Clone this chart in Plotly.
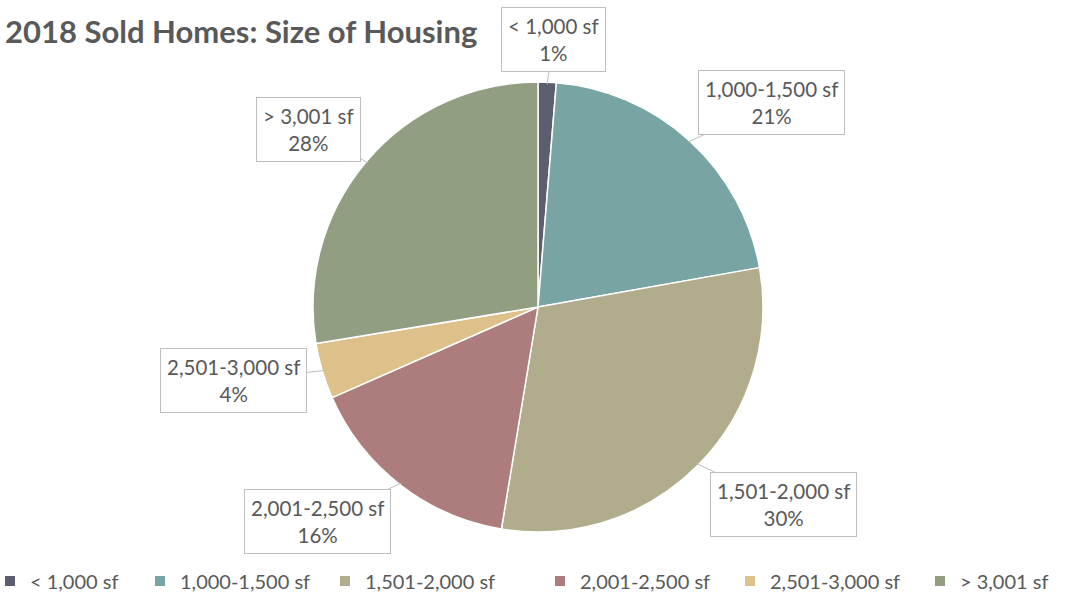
import math
import plotly.graph_objects as go

categories = ["< 1,000 sf", "1,000-1,500 sf", "1,501-2,000 sf", "2,001-2,500 sf", "2,501-3,000 sf", "> 3,001 sf"]
shares = [1.3, 20.9, 30.4, 15.8, 4.0, 27.6]
colors = ["#5b5e6e", "#78a5a3", "#b0ac8c", "#ad7d7d", "#dec08b", "#919e82"]
title_text = "2018 Sold Homes: Size of Housing"

# style: label distance from center (in radii) and small angle tweak (deg)
label_dist = [1.19, 1.38, 1.40, 1.37, 1.39, 1.29]
label_dtheta = [1.0, 6.5, -5.8, 8.0, 3.0, -2.7]
# style: legend text start positions (px)
legend_text_x = [30, 180, 365, 580, 770, 960]

W, H = 1072, 592
cx, cy, R = 538, 307, 225
FONT = "Lato"
TXT = "#595959"

fig = go.Figure()
fig.add_trace(go.Pie(
    labels=categories, values=shares, sort=False, direction="clockwise", rotation=0,
    marker=dict(colors=colors, line=dict(color="white", width=1.5)),
    textinfo="none", hoverinfo="label+percent", showlegend=False,
    domain=dict(x=[(cx - R) / W, (cx + R) / W], y=[1 - (cy + R) / H, 1 - (cy - R) / H]),
))

legends = {}
for i, (cat, c) in enumerate(zip(categories, colors)):
    key = "legend" if i == 0 else f"legend{i + 1}"
    fig.add_trace(go.Scatter(
        x=[None], y=[None], mode="markers", name=cat, legend=key,
        marker=dict(symbol="square", size=10, color=c), hoverinfo="skip",
    ))
    legends[key] = dict(
        orientation="h", x=(legend_text_x[i] - 40) / W, xanchor="left",
        y=1 - 581 / H, yanchor="middle", bgcolor="rgba(0,0,0,0)",
        font=dict(family=FONT, size=20, color=TXT), itemwidth=30,
    )

total = sum(shares)
cum = 0.0
annotations = []
for i, (cat, v) in enumerate(zip(categories, shares)):
    mid = (cum + v / 2) / total * 360.0
    cum += v
    a = math.radians(mid)
    tipx = cx + 0.99 * R * math.sin(a)
    tipy = cy - 0.99 * R * math.cos(a)
    b = math.radians(mid + label_dtheta[i])
    bx = cx + label_dist[i] * R * math.sin(b)
    by = cy - label_dist[i] * R * math.cos(b)
    pct = round(v / total * 100)
    annotations.append(dict(
        x=tipx / W, y=1 - tipy / H, xref="paper", yref="paper",
        ax=bx - tipx, ay=by - tipy,
        text=f"{cat}<br>{pct}%", showarrow=True, arrowhead=0, arrowwidth=1,
        arrowcolor="#bfbfbf", bgcolor="white", bordercolor="#bfbfbf", borderwidth=1,
        borderpad=6, font=dict(family=FONT, size=20.5, color=TXT), align="center",
    ))

annotations.append(dict(
    x=3 / W, y=1 - 31 / H, xref="paper", yref="paper", xanchor="left", yanchor="middle",
    text=f"<b>{title_text}</b>", showarrow=False,
    font=dict(family=FONT, size=31, color=TXT),
))

fig.update_layout(
    width=W, height=H, margin=dict(l=0, r=0, t=0, b=0, autoexpand=False),
    paper_bgcolor="white", plot_bgcolor="rgba(0,0,0,0)",
    annotations=annotations,
    showlegend=True,
    xaxis=dict(visible=False), yaxis=dict(visible=False),
    **legends,
)

fig.write_html("out.html", config={"displayModeBar": False},
               post_script="document.body.style.margin='0';")
